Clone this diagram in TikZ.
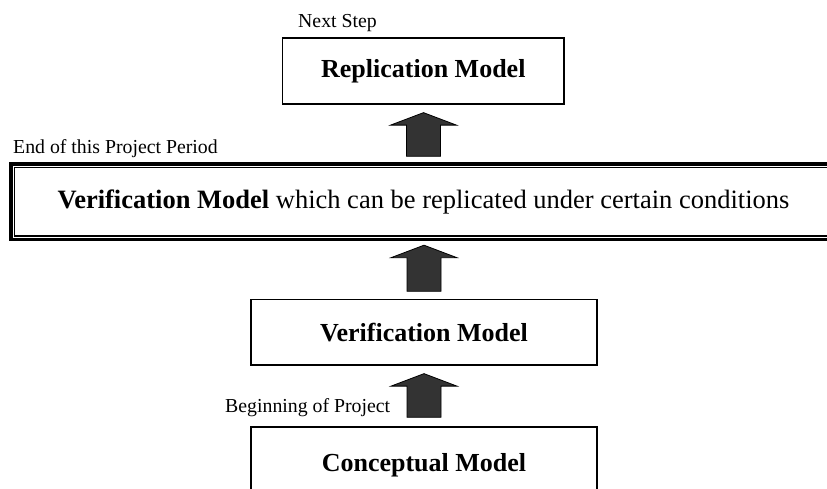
\documentclass[tikz,border=0pt]{standalone}
\usepackage{fontspec}
\setmainfont{Liberation Serif}
\usetikzlibrary{calc}

\definecolor{arrowfill}{HTML}{333333}

\tikzset{
  modelbox/.style={draw=black, line width=1.3pt, fill=white, inner sep=0pt,
    font=\fontsize{26}{30}\selectfont\bfseries},
  stagebox/.style={draw=black, line width=3.4pt, fill=white, inner sep=0pt,
    font=\fontsize{26.5}{30}\selectfont},
  stageinner/.style={draw=black, line width=1.5pt},
  milestone/.style={inner sep=0pt, anchor=base west,
    font=\fontsize{19.8}{23}\selectfont},
  blockarrow/.style={draw=black, line width=0.8pt, fill=arrowfill, line join=miter},
}

% upward block arrow from the top of node #1 to the bottom of node #2,
% leaving gap #3 below and gap #4 above
\newcommand\upblock[4]{%
  \path let \p1=($(#1.north)+(0,#3)$), \p2=($(#2.south)+(0,-#4)$) in
    [blockarrow] (\x1-17pt,\y1) -- (\x1+17pt,\y1) -- (\x1+17pt,\y2-12.5pt)
    -- (\x1+33pt,\y2-12.5pt) -- (\x1,\y2) -- (\x1-33pt,\y2-12.5pt)
    -- (\x1-17pt,\y2-12.5pt) -- cycle;
}

\begin{document}
\begin{tikzpicture}[x=1pt, y=1pt]
  \useasboundingbox (0,0) rectangle (827,489);

  % model boxes
  \node[modelbox, minimum width=281.3pt, minimum height=66pt]
    (rep) at (423.3,418) {Replication Model};
  \node[stagebox, minimum width=825pt, minimum height=75.5pt]
    (vmr) at (423.5,287.25)
    {\textbf{Verification Model} which can be replicated under certain conditions};
  \draw[stageinner] ([shift={(5,-5)}]vmr.north west) rectangle ([shift={(-5,5)}]vmr.south east);
  \node[modelbox, minimum width=346pt, minimum height=65.5pt]
    (vm) at (424,156.75) {Verification Model};
  \node[modelbox, minimum width=346pt, minimum height=76pt]
    (cm) at (424,24) {Conceptual Model};

  % milestone labels
  \node[milestone] (next) at (298,461.3) {Next Step};
  \node[milestone] (endp) at (13,335) {End of this Project Period};
  \node[milestone] (begin) at (225,76) {Beginning of Project};

  % progression arrows
  \upblock{cm}{vm}{9}{8}
  \upblock{vm}{vmr}{7.5}{4}
  \upblock{vmr}{rep}{6}{8}
\end{tikzpicture}
\end{document}
